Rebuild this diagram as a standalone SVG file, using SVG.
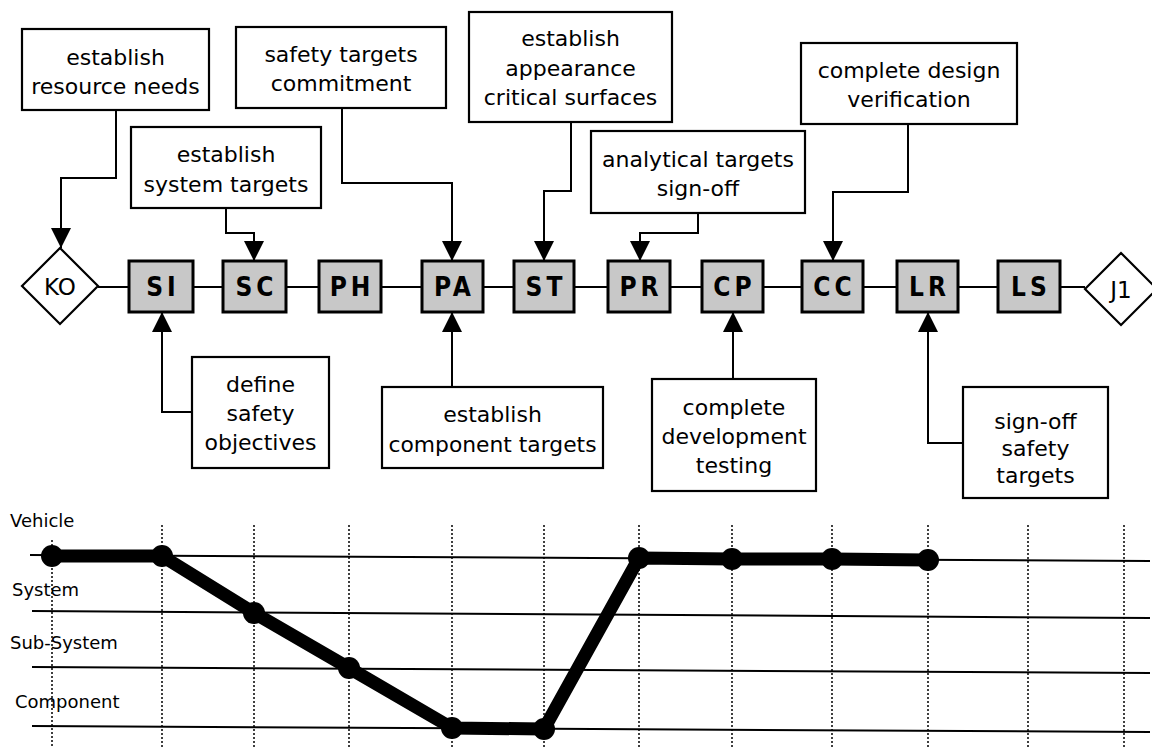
<svg xmlns="http://www.w3.org/2000/svg" width="1152" height="748" viewBox="0 0 1152 748">
  <style>
    .box { fill: #ffffff; stroke: #000; stroke-width: 2.2; }
    .ms { fill: #c8c8c8; stroke: #000; stroke-width: 3; }
    .dia { fill: #ffffff; stroke: #000; stroke-width: 2.2; }
    .lbl { font-family: "DejaVu Sans", Verdana, sans-serif; font-size: 22px; fill: #000; text-anchor: middle; }
    .mst { font-family: "DejaVu Sans Condensed", "DejaVu Sans", sans-serif; font-weight: bold; font-size: 26px; fill: #000; text-anchor: middle; letter-spacing: 4px; }
    .axis { font-family: "DejaVu Sans", Verdana, sans-serif; font-size: 18px; fill: #000; }
    .conn { fill: none; stroke: #000; stroke-width: 2; }
    .grid { stroke: #000; stroke-width: 2; }
    .vgrid { stroke: #000; stroke-width: 1.5; stroke-dasharray: 2 2; }
    .path { fill: none; stroke: #000; stroke-width: 13; stroke-linejoin: round; }
  </style>
  <defs>
    <marker id="arrow" markerUnits="userSpaceOnUse" markerWidth="20" markerHeight="22" viewBox="0 0 20 22" refX="20" refY="10" orient="auto">
      <path d="M0,0 L20,10 L0,20 Z" fill="#000"/>
    </marker>
  </defs>

  <!-- timeline spine -->
  <g id="spine">
    <line x1="98" y1="287" x2="1085" y2="287" class="conn"/>
  </g>

  <!-- milestone gates -->
  <g id="KO"><polygon class="dia" points="60,248 98,286 60,324 22,286"/><text class="lbl" x="60" y="295" style="font-size:23px">KO</text></g>
  <g id="SI"><rect class="ms" x="129" y="261" width="64" height="51"/><text class="mst" x="163" y="296">SI</text></g>
  <g id="SC"><rect class="ms" x="223" y="261" width="63" height="51"/><text class="mst" x="256.5" y="296">SC</text></g>
  <g id="PH"><rect class="ms" x="319" y="261" width="62" height="51"/><text class="mst" x="352" y="296">PH</text></g>
  <g id="PA"><rect class="ms" x="422" y="261" width="61" height="51"/><text class="mst" x="454.5" y="296">PA</text></g>
  <g id="ST"><rect class="ms" x="514" y="261" width="60" height="51"/><text class="mst" x="546" y="296">ST</text></g>
  <g id="PR"><rect class="ms" x="608" y="261" width="62" height="51"/><text class="mst" x="641" y="296">PR</text></g>
  <g id="CP"><rect class="ms" x="702" y="261" width="61" height="51"/><text class="mst" x="734.5" y="296">CP</text></g>
  <g id="CC"><rect class="ms" x="802" y="261" width="61" height="51"/><text class="mst" x="834.5" y="296">CC</text></g>
  <g id="LR"><rect class="ms" x="897" y="261" width="61" height="51"/><text class="mst" x="929.5" y="296">LR</text></g>
  <g id="LS"><rect class="ms" x="998" y="261" width="62" height="51"/><text class="mst" x="1031" y="296">LS</text></g>
  <g id="J1"><polygon class="dia" points="1121,253 1157,289 1121,325 1085,289"/><text class="lbl" x="1121" y="298" style="font-size:23px">J1</text></g>

  <!-- activity boxes -->
  <g id="resource-needs"><rect class="box" x="22" y="29" width="187" height="81"/>
    <text class="lbl" x="115.5" y="65">establish</text><text class="lbl" x="115.5" y="94">resource needs</text></g>
  <g id="safety-commitment"><rect class="box" x="236" y="27" width="210" height="81"/>
    <text class="lbl" x="341" y="62">safety targets</text><text class="lbl" x="341" y="91">commitment</text></g>
  <g id="system-targets"><rect class="box" x="131" y="127" width="190" height="81"/>
    <text class="lbl" x="226" y="162">establish</text><text class="lbl" x="226" y="192">system targets</text></g>
  <g id="appearance-surfaces"><rect class="box" x="469" y="12" width="203" height="110"/>
    <text class="lbl" x="570.5" y="46">establish</text><text class="lbl" x="570.5" y="76">appearance</text><text class="lbl" x="570.5" y="105">critical surfaces</text></g>
  <g id="analytical-signoff"><rect class="box" x="591" y="131" width="214" height="82"/>
    <text class="lbl" x="698" y="167">analytical targets</text><text class="lbl" x="698" y="196">sign-off</text></g>
  <g id="design-verification"><rect class="box" x="801" y="43" width="216" height="81"/>
    <text class="lbl" x="909" y="78">complete design</text><text class="lbl" x="909" y="107">verification</text></g>
  <g id="safety-objectives"><rect class="box" x="192" y="357" width="137" height="111"/>
    <text class="lbl" x="260.5" y="392">define</text><text class="lbl" x="260.5" y="421">safety</text><text class="lbl" x="260.5" y="450">objectives</text></g>
  <g id="component-targets"><rect class="box" x="382" y="387" width="221" height="81"/>
    <text class="lbl" x="492.5" y="422">establish</text><text class="lbl" x="492.5" y="452" textLength="208" lengthAdjust="spacingAndGlyphs">component targets</text></g>
  <g id="development-testing"><rect class="box" x="652" y="379" width="164" height="112"/>
    <text class="lbl" x="734" y="415">complete</text><text class="lbl" x="734" y="444">development</text><text class="lbl" x="734" y="473">testing</text></g>
  <g id="signoff-safety"><rect class="box" x="963" y="387" width="145" height="111"/>
    <text class="lbl" x="1035.5" y="429">sign-off</text><text class="lbl" x="1035.5" y="456">safety</text><text class="lbl" x="1035.5" y="483">targets</text></g>

  <!-- connectors -->
  <g id="connectors">
    <polyline class="conn" points="116,110 116,178 61,178 61,248" marker-end="url(#arrow)"/>
    <polyline class="conn" points="342,108 342,183 452,183 452,261" marker-end="url(#arrow)"/>
    <polyline class="conn" points="226,208 226,233 254,233 254,261" marker-end="url(#arrow)"/>
    <polyline class="conn" points="571,122 571,191 544,191 544,261" marker-end="url(#arrow)"/>
    <polyline class="conn" points="698,213 698,233 640,233 640,261" marker-end="url(#arrow)"/>
    <polyline class="conn" points="908,124 908,192 833,192 833,261" marker-end="url(#arrow)"/>
    <polyline class="conn" points="192,412 162,412 162,312" marker-end="url(#arrow)"/>
    <polyline class="conn" points="452,387 452,312" marker-end="url(#arrow)"/>
    <polyline class="conn" points="733,379 733,312" marker-end="url(#arrow)"/>
    <polyline class="conn" points="963,443 928,443 928,312" marker-end="url(#arrow)"/>
  </g>

  <!-- level chart -->
  <g id="level-chart">
    <g id="vertical-guides">
      <line class="vgrid" x1="52" y1="540" x2="52" y2="748"/>
      <line class="vgrid" x1="162" y1="525" x2="162" y2="748"/>
      <line class="vgrid" x1="254" y1="525" x2="254" y2="748"/>
      <line class="vgrid" x1="349" y1="525" x2="349" y2="748"/>
      <line class="vgrid" x1="452" y1="525" x2="452" y2="748"/>
      <line class="vgrid" x1="544" y1="525" x2="544" y2="748"/>
      <line class="vgrid" x1="639" y1="525" x2="639" y2="748"/>
      <line class="vgrid" x1="732" y1="525" x2="732" y2="748"/>
      <line class="vgrid" x1="832" y1="525" x2="832" y2="748"/>
      <line class="vgrid" x1="928" y1="525" x2="928" y2="748"/>
      <line class="vgrid" x1="1028" y1="525" x2="1028" y2="748"/>
      <line class="vgrid" x1="1124" y1="525" x2="1124" y2="748"/>
    </g>
    <g id="level-lines">
      <line class="grid" x1="30" y1="555" x2="1150" y2="561"/>
      <line class="grid" x1="32" y1="611" x2="1150" y2="618"/>
      <line class="grid" x1="32" y1="667" x2="1150" y2="673"/>
      <line class="grid" x1="32" y1="726" x2="1150" y2="732"/>
    </g>
    <text class="axis" x="10" y="527">Vehicle</text>
    <text class="axis" x="12" y="596">System</text>
    <text class="axis" x="10" y="649">Sub-System</text>
    <text class="axis" x="15" y="708">Component</text>
    <polyline class="path" points="52,556 162,556 254,613 349,668 452,728 544,729 639,558 732,559 832,559 928,560"/>
    <g fill="#000">
      <circle cx="52" cy="556" r="11"/>
      <circle cx="162" cy="556" r="11"/>
      <circle cx="254" cy="613" r="11"/>
      <circle cx="349" cy="668" r="11"/>
      <circle cx="452" cy="728" r="11"/>
      <circle cx="544" cy="729" r="11"/>
      <circle cx="639" cy="558" r="11"/>
      <circle cx="732" cy="559" r="11"/>
      <circle cx="832" cy="559" r="11"/>
      <circle cx="928" cy="560" r="11"/>
    </g>
  </g>
</svg>
